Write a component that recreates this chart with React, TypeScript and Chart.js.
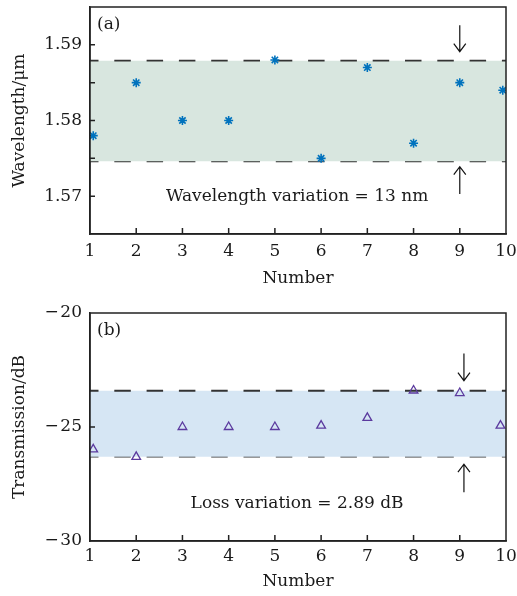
import React, { useEffect, useRef } from 'react';
import { Chart, registerables } from 'chart.js';

Chart.register(...registerables);

// ---------- data ----------
const numberTicks = [1, 2, 3, 4, 5, 6, 7, 8, 9, 10];

const wavelengthX = [1.07, 2, 3, 4, 5, 6, 7, 8, 9, 9.93];
const wavelengthValues = [1.578, 1.585, 1.58, 1.58, 1.588, 1.575, 1.587, 1.577, 1.585, 1.584];
const wavelengthBand = [1.5746, 1.5879]; // lower, upper
const wavelengthRange = [1.565, 1.595];
const wavelengthLabels = [1.57, 1.58, 1.59];

const transmissionX = [1.07, 2, 3, 4, 5, 6, 7, 8, 9, 9.88];
const transmissionValues = [-25.98, -26.31, -25.0, -25.0, -25.0, -24.94, -24.6, -23.4, -23.51, -24.94];
const transmissionBand = [-26.3, -23.41];
const transmissionRange = [-30, -20];
const transmissionLabels = [-30, -25, -20];

const FONT = 'DejaVu Serif';
const INK = '#1a1a1a';

// ---------- plugin: frame, inward ticks, annotations ----------
const framePlugin = {
  id: 'frame',
  afterDatasetsDraw(chart: any, _args: any, opts: any) {
    const { ctx, chartArea } = chart;
    const { left, right, top, bottom } = chartArea;
    const xs = chart.scales.x;
    const ys = chart.scales.y;
    ctx.save();
    ctx.strokeStyle = '#222';
    ctx.lineWidth = 1.5;
    ctx.beginPath();
    xs.ticks.forEach((t: any) => {
      const px = xs.getPixelForValue(t.value);
      if (px > left + 1 && px < right - 1) {
        ctx.moveTo(px, bottom);
        ctx.lineTo(px, bottom - 6);
      }
    });
    ys.ticks.forEach((t: any) => {
      const py = ys.getPixelForValue(t.value);
      if (py > top + 1 && py < bottom - 1) {
        ctx.moveTo(left, py);
        ctx.lineTo(left + 5, py);
      }
    });
    ctx.stroke();
    ctx.strokeRect(left, top, right - left, bottom - top);

    // panel label
    ctx.fillStyle = INK;
    ctx.font = `17px "${FONT}"`;
    ctx.textAlign = 'left';
    ctx.textBaseline = 'middle';
    ctx.fillText(opts.panel, left + 7, top + 18);

    // variation text
    ctx.textAlign = 'center';
    ctx.fillText(opts.text, xs.getPixelForValue(opts.textAt[0]), ys.getPixelForValue(opts.textAt[1]));

    // arrows
    ctx.strokeStyle = '#111';
    ctx.lineWidth = 1.2;
    const ax = xs.getPixelForValue(opts.arrowX);
    opts.arrows.forEach((a: number[]) => {
      const y0 = ys.getPixelForValue(a[0]);
      const y1 = ys.getPixelForValue(a[1]);
      const dir = Math.sign(y1 - y0);
      ctx.beginPath();
      ctx.moveTo(ax, y0);
      ctx.lineTo(ax, y1);
      ctx.moveTo(ax - 6, y1 - dir * 8);
      ctx.lineTo(ax, y1);
      ctx.lineTo(ax + 6, y1 - dir * 8);
      ctx.stroke();
    });
    ctx.restore();
  },
};

function makeConfig(p: any) {
  const font = { family: FONT, size: 17 };
  return {
    type: 'scatter',
    data: {
      datasets: [
        {
          data: p.xs.map((x: number, i: number) => ({ x, y: p.values[i] })),
          pointStyle: p.pointStyle,
          pointRadius: p.pointRadius,
          pointBorderWidth: p.pointBorderWidth,
          borderColor: p.color,
          backgroundColor: 'rgba(0,0,0,0)',
          pointBackgroundColor: 'rgba(0,0,0,0)',
          showLine: false,
        },
        {
          type: 'line',
          data: [
            { x: numberTicks[0], y: p.band[1] },
            { x: numberTicks[numberTicks.length - 1], y: p.band[1] },
          ],
          borderColor: '#333',
          borderWidth: 1.8,
          borderDash: [16.5, 15.8],
          borderDashOffset: 8,
          pointRadius: 0,
          fill: '+1',
          backgroundColor: p.bandColor,
        },
        {
          type: 'line',
          data: [
            { x: numberTicks[0], y: p.band[0] },
            { x: numberTicks[numberTicks.length - 1], y: p.band[0] },
          ],
          borderColor: '#333',
          borderWidth: 1.8,
          borderDash: [16.5, 15.8],
          borderDashOffset: 8,
          pointRadius: 0,
          fill: false,
        },
      ],
    },
    options: {
      responsive: false,
      animation: false,
      events: [],
      layout: { padding: { top: p.padTop, right: 11, left: 0, bottom: 0 } },
      plugins: {
        legend: { display: false },
        tooltip: { enabled: false },
        frame: {
          panel: p.panel,
          text: p.text,
          textAt: p.textAt,
          arrowX: p.arrowX,
          arrows: p.arrows,
        },
      },
      scales: {
        x: {
          type: 'linear',
          min: numberTicks[0],
          max: numberTicks[numberTicks.length - 1],
          afterBuildTicks: (s: any) => {
            s.ticks = numberTicks.map((v) => ({ value: v }));
          },
          ticks: { font, color: INK, padding: p.xTickPad, maxRotation: 0, autoSkip: false },
          grid: { display: false, drawTicks: false },
          border: { display: true, color: '#222', width: 1.5 },
          title: { display: true, text: 'Number', font, color: INK, padding: { top: 0, bottom: p.xTitlePad } },
          afterFit: (s: any) => {
            s.height = p.xHeight;
            s.paddingLeft = 0;
            s.paddingRight = 0;
          },
        },
        y: {
          type: 'linear',
          min: p.range[0],
          max: p.range[1],
          ticks: {
            font,
            color: INK,
            padding: 8,
            stepSize: p.step,
            callback: p.tickLabel,
          },
          grid: { display: false, drawTicks: false },
          border: { display: true, color: '#222', width: 1.5 },
          title: { display: true, text: p.yTitle, font, color: INK, padding: { top: 9.5, bottom: 0 } },
          afterFit: (s: any) => {
            s.width = 90;
            s.paddingTop = 0;
            s.paddingBottom = 0;
          },
        },
      },
    },
    plugins: [framePlugin],
  };
}

const topConfig = () =>
  makeConfig({
    xs: wavelengthX,
    values: wavelengthValues,
    band: wavelengthBand,
    range: wavelengthRange,
    step: 0.005,
    tickLabel: (v: number) => {
      const m = Math.round(v * 1000);
      return m % 10 === 0 && wavelengthLabels.some((l) => Math.abs(l - v) < 1e-6) ? (m / 1000).toFixed(2) : '';
    },
    pointStyle: 'star',
    pointRadius: 4.5,
    pointBorderWidth: 1.6,
    color: '#0072BD',
    bandColor: 'rgb(216,230,223)',
    padTop: 7,
    xHeight: 61,
    xTickPad: 7,
    xTitlePad: 6.5,
    yTitle: 'Wavelength/μm',
    panel: '(a)',
    text: 'Wavelength variation = 13 nm',
    textAt: [5.48, 1.5699],
    arrowX: 9,
    arrows: [
      [1.5926, 1.5891],
      [1.5703, 1.5739],
    ],
  });

const bottomConfig = () =>
  makeConfig({
    xs: transmissionX,
    values: transmissionValues,
    band: transmissionBand,
    range: transmissionRange,
    step: 5,
    tickLabel: (v: number) =>
      transmissionLabels.some((l) => Math.abs(l - v) < 1e-6) ? (v < 0 ? '\u2212\u200A' + Math.abs(v) : String(v)) : '',
    pointStyle: 'triangle',
    pointRadius: 5,
    pointBorderWidth: 1.3,
    color: '#5B3A9E',
    bandColor: 'rgb(214,230,244)',
    padTop: 18,
    xHeight: 55,
    xTickPad: 5,
    xTitlePad: 4,
    yTitle: 'Transmission/dB',
    panel: '(b)',
    text: 'Loss variation = 2.89 dB',
    textAt: [5.48, -28.35],
    arrowX: 9.09,
    arrows: [
      [-21.78, -22.97],
      [-27.86, -26.63],
    ],
  });

function Panel({ top, height, config }: { top: number; height: number; config: () => any }) {
  const ref = useRef<HTMLCanvasElement | null>(null);
  useEffect(() => {
    const chart = new Chart(ref.current as HTMLCanvasElement, config());
    return () => chart.destroy();
  }, []);
  return (
    <canvas
      ref={ref}
      width={517}
      height={height}
      style={{ position: 'absolute', left: 0, top, width: 517, height, display: 'block' }}
    />
  );
}

export default function App() {
  return (
    <div style={{ position: 'absolute', left: 0, top: 0, width: 517, height: 596, background: '#fff' }}>
      <Panel top={0} height={295} config={topConfig} />
      <Panel top={295} height={301} config={bottomConfig} />
    </div>
  );
}
